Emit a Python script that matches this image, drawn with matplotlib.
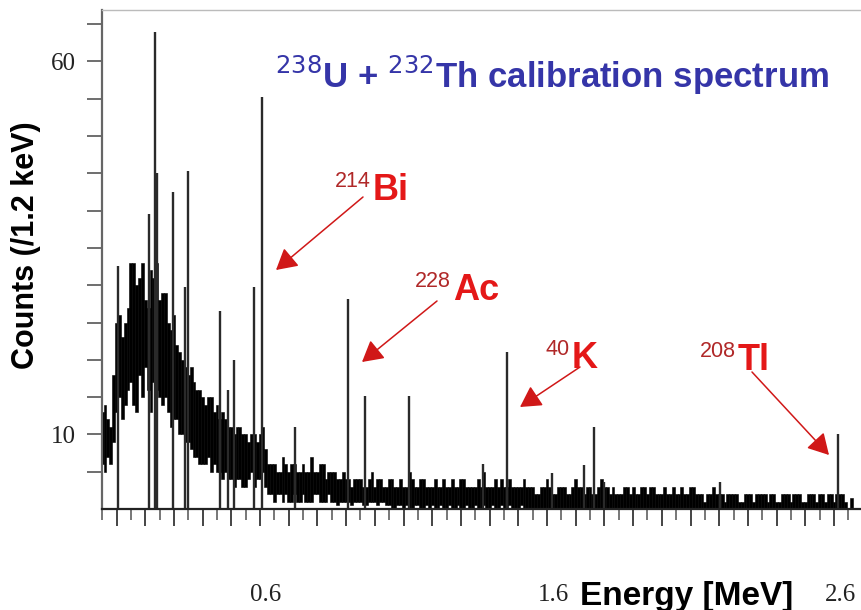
import numpy as np
import matplotlib
matplotlib.use("Agg")
import matplotlib.pyplot as plt
import matplotlib.transforms as mtrans
from matplotlib.ticker import FixedLocator, NullFormatter

# continuum band, 10 keV bins starting at 0.05 MeV (upper / lower edge of the noisy band)
e_start = 0.05
e_step = 0.01
band_hi = [
    13, 14, 12, 11, 18, 25, 26, 23, 25, 27,
    33, 33, 30, 31, 33, 28, 27, 32, 31, 33,
    28, 29, 29, 25, 24, 26, 22, 21, 20, 19,
    18, 19, 17, 16, 16, 15, 14, 15, 15, 13,
    14, 12, 13, 12, 11, 11, 10, 11, 11, 10,
    10, 9, 10, 10, 9, 10, 11, 8, 6, 6,
    6, 5, 5, 7, 6, 5, 6, 6, 5, 5,
    6, 5, 5, 7, 5, 5, 6, 6, 4, 5,
    5, 5, 4, 4, 5, 4, 4, 3, 4, 4,
    4, 3, 3, 4, 5, 3, 4, 4, 3, 3,
    4, 4, 3, 3, 4, 3, 3, 5, 4, 3,
    3, 4, 4, 3, 3, 3, 4, 3, 3, 4,
    3, 3, 4, 3, 3, 4, 4, 3, 3, 3,
    3, 4, 3, 5, 3, 3, 3, 4, 3, 4,
    3, 3, 4, 3, 3, 3, 3, 4, 3, 3,
    3, 2, 2, 3, 3, 4, 3, 2, 2, 3,
    3, 3, 2, 2, 3, 4, 3, 3, 2, 3,
    3, 2, 2, 3, 4, 3, 3, 2, 3, 2,
    2, 2, 3, 3, 2, 3, 2, 2, 3, 3,
    2, 3, 3, 2, 2, 2, 3, 2, 2, 3,
    2, 2, 3, 2, 2, 3, 3, 2, 2, 2,
    1, 2, 2, 3, 2, 2, 2, 1, 2, 2,
    2, 2, 1, 1, 2, 2, 2, 1, 2, 2,
    2, 2, 1, 2, 2, 1, 1, 2, 2, 2,
    1, 2, 2, 2, 1, 1, 2, 2, 2, 1,
    2, 2, 1, 2, 2, 1, 2, 2, 2, 1,
    0, 1.5, 0, 0, 0,
]
band_lo = [
    6, 5, 7, 6, 9, 13, 15, 12, 14, 16,
    17, 14, 13, 18, 15, 19, 16, 13, 17, 16,
    15, 14, 15, 13, 11, 12, 12, 10, 10, 9,
    9, 8, 7, 7, 6, 6, 6, 7, 5, 6,
    5, 5, 4, 5, 4, 4, 3, 4, 4, 3,
    3, 4, 5, 3, 4, 4, 5, 3, 2, 2,
    1, 2, 2, 1, 2, 1, 1, 2, 1, 1,
    2, 1, 1, 1, 2, 2, 1, 1, 1, 2,
    1, 1, 0.5, 1, 1, 1, 1, 0.5, 1, 1,
    1, 0.5, 0.5, 1, 1, 1, 0.5, 1, 1, 0.5,
    0.5, 0, 0, 0.5, 0.5, 0, 0.5, 0, 0, 0.5,
    0.5, 0, 0, 0.5, 0, 0.5, 0, 0, 0.5, 0,
    0, 0.5, 0, 0, 0.5, 0, 0, 0.5, 0, 0,
    0.5, 0, 0, 0.5, 0, 0, 0.5, 0, 0, 0.5,
    0, 0, 0.5, 0, 0, 0, 0.5, 0, 0, 0,
    0, 0, 0, 0, 0, 0, 0, 0, 0, 0,
    0, 0, 0, 0, 0, 0, 0, 0, 0, 0,
    0, 0, 0, 0, 0, 0, 0, 0, 0, 0,
    0, 0, 0, 0, 0, 0, 0, 0, 0, 0,
    0, 0, 0, 0, 0, 0, 0, 0, 0, 0,
    0, 0, 0, 0, 0, 0, 0, 0, 0, 0,
    0, 0, 0, 0, 0, 0, 0, 0, 0, 0,
    0, 0, 0, 0, 0, 0, 0, 0, 0, 0,
    0, 0, 0, 0, 0, 0, 0, 0, 0, 0,
    0, 0, 0, 0, 0, 0, 0, 0, 0, 0,
    0, 0, 0, 0, 0, 0, 0, 0, 0, 0,
    0, 0, 0, 0, 0,
]

# gamma lines (MeV, counts at top of the line)
peak_e = [0.106, 0.214, 0.234, 0.240, 0.296, 0.339, 0.350, 0.461, 0.488, 0.509,
          0.580, 0.608, 0.722, 0.907, 0.966, 1.119, 1.376, 1.459, 1.618, 1.730,
          1.764, 1.799, 2.203, 2.613]
peak_c = [32.6, 39.5, 64.0, 45.0, 42.5, 29.7, 45.3, 26.6, 16.0, 20.0,
          29.8, 55.2, 11.0, 28.2, 15.1, 15.1, 6.1, 21.0, 4.8, 5.9,
          11.0, 3.6, 3.6, 10.1]

# isotope labels: (mass number, element, text x / baseline y in px, arrow tail px, arrow head px)
labels = [
    ("214", "Bi", (335, 200), (363, 197), (276, 270)),
    ("228", "Ac", (415, 300), (437, 301), (362, 362)),
    ("40", "K", (545, 368), (580, 367), (520, 407)),
    ("208", "Tl", (700, 370), (752, 372), (829, 455)),
]

W, H = 861, 610
fig = plt.figure(figsize=(W / 100, H / 100), dpi=100)
ax = fig.add_axes([102.15 / W, 101 / H, (W - 102.15) / W, 499 / H])

energy = e_start + e_step * np.arange(len(band_hi))
hi = np.array(band_hi, dtype=float)
lo = np.array(band_lo, dtype=float)
ax.bar(energy, hi - lo, bottom=lo, width=e_step, color="black",
       edgecolor="black", linewidth=0.4)
ax.vlines(peak_e, 0, peak_c, color="#2a2a2a", lw=1.7)

ax.set_xlim(0.05, 2.694)
ax.set_ylim(0, 66.9)

# axes styling
ax.spines["right"].set_visible(False)
ax.spines["top"].set_color("#bbbbbb")
ax.spines["top"].set_linewidth(1)
ax.spines["left"].set_color("#666666")
ax.spines["left"].set_linewidth(1.6)
ax.spines["bottom"].set_color("#222222")
ax.spines["bottom"].set_linewidth(1.6)

xmaj = [round(0.1 * k, 2) for k in range(1, 27)]
xmin = [round(0.05 + 0.1 * k, 2) for k in range(0, 27)]
shown = {0.6: "0.6", 1.6: "1.6", 2.6: "2.6"}
ax.xaxis.set_major_locator(FixedLocator(xmaj))
ax.xaxis.set_minor_locator(FixedLocator(xmin))
ax.set_xticklabels([shown.get(v, "") for v in xmaj])
ax.xaxis.set_minor_formatter(NullFormatter())
ax.tick_params(axis="x", which="major", direction="out", length=12, width=1.4,
               color="#444444", pad=42)
ax.tick_params(axis="x", which="minor", direction="out", length=8, width=1.4,
               color="#777777")

yt = list(range(5, 70, 5))
ax.yaxis.set_major_locator(FixedLocator(yt))
ax.set_yticklabels(["10" if v == 10 else "60" if v == 60 else "" for v in yt])
ax.tick_params(axis="y", direction="out", length=11, width=1.2, color="#555555", pad=8)

shift = mtrans.ScaledTranslation(6 / 100, 0, fig.dpi_scale_trans)
for lab in ax.get_xticklabels():
    lab.set_transform(lab.get_transform() + shift)
for lab in ax.get_xticklabels() + ax.get_yticklabels():
    lab.set_fontfamily("Liberation Serif")
    lab.set_fontsize(18)
    lab.set_color("#222222")

def fpos(x, y):
    return x / W, 1 - y / H

fig.text(*fpos(687, 596), "Energy [MeV]", ha="center", va="center",
         fontsize=24, fontweight="bold", family="Liberation Sans")
fig.text(*fpos(26, 245), "Counts (/1.2 keV)", ha="center", va="center", rotation=90,
         fontsize=22, fontweight="bold", family="Liberation Sans")

fig.text(*fpos(275, 75), r"$^{238}$U + $^{232}$Th calibration spectrum", ha="left",
         va="center", fontsize=25, fontweight="bold", color="#3535a8",
         family="Liberation Sans")

for num, elem, (tx, ty), tail, head in labels:
    t = fig.text(*fpos(tx, ty - 13), num, ha="left", va="baseline", fontsize=15.5,
                 color="#b02828", family="Liberation Sans")
    fig.canvas.draw()
    bb = t.get_window_extent()
    fig.text(bb.x1 / W + 2 / W, 1 - ty / H, elem, ha="left", va="baseline",
             fontsize=26, fontweight="bold", color="#e41818", family="Liberation Sans")
    ax.annotate("", xy=fpos(*head), xycoords="figure fraction",
                xytext=fpos(*tail), textcoords="figure fraction",
                arrowprops=dict(arrowstyle="-|>,head_length=0.8,head_width=0.45",
                                color="#d01818", lw=1.1, shrinkA=0, shrinkB=0,
                                mutation_scale=16))

fig.savefig("out.png", dpi=100)
